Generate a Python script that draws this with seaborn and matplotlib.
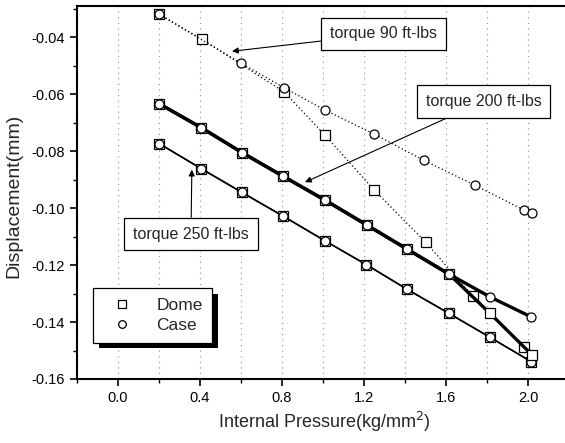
import numpy as np
import matplotlib
matplotlib.use("Agg")
import matplotlib.pyplot as plt
import matplotlib.patheffects as pe
from matplotlib.ticker import MultipleLocator, FormatStrFormatter
from matplotlib.lines import Line2D
import seaborn as sns


# torque 90 ft-lbs (dotted)
x_90_case = [0.20, 0.60, 0.81, 1.01, 1.25, 1.49, 1.74, 1.98, 2.02]
y_90_case = [-0.0319, -0.0491, -0.0577, -0.0656, -0.0740, -0.0832, -0.0919, -0.1007, -0.1018]
x_90_dome = [0.20, 0.41, 0.81, 1.01, 1.25, 1.50, 1.73, 1.98]
y_90_dome = [-0.0319, -0.0407, -0.0592, -0.0744, -0.0937, -0.1119, -0.1309, -0.1488]

# torque 200 ft-lbs (thick)
x_200_case = [0.20, 0.405, 0.605, 0.805, 1.01, 1.215, 1.41, 1.615, 1.815, 2.015]
y_200_case = [-0.0633, -0.0717, -0.0805, -0.0888, -0.0972, -0.1060, -0.1144, -0.1232, -0.1312, -0.1382]
x_200_dome = [0.20, 0.405, 0.605, 0.805, 1.01, 1.215, 1.41, 1.615, 1.815, 2.02]
y_200_dome = [-0.0633, -0.0717, -0.0805, -0.0888, -0.0972, -0.1060, -0.1144, -0.1232, -0.1370, -0.1516]

# torque 250 ft-lbs (thin solid)
x_250 = [0.20, 0.405, 0.605, 0.805, 1.01, 1.21, 1.41, 1.615, 1.815, 2.015]
y_250 = [-0.0773, -0.0861, -0.0945, -0.1028, -0.1115, -0.1198, -0.1285, -0.1370, -0.1454, -0.1539]

sns.set_style("ticks")
plt.rcParams["font.family"] = ["Liberation Sans", "DejaVu Sans"]

fig = plt.figure(figsize=(5.65, 4.43), dpi=100)
ax = fig.add_axes([0.1363, 0.1445, 0.8637, 0.842])

mk = dict(markersize=6.5, markerfacecolor="white", markeredgecolor="black",
          markeredgewidth=0.9, color="black")

sns.lineplot(x=x_90_dome, y=y_90_dome, marker="s", linestyle=(0, (1, 2)),
             linewidth=0.9, ax=ax, **mk)
sns.lineplot(x=x_90_case, y=y_90_case, marker="o", linestyle=(0, (1, 2)),
             linewidth=0.9, ax=ax, **mk)
sns.lineplot(x=x_250, y=y_250, marker="s", linewidth=1.1, ax=ax, **mk)
sns.lineplot(x=x_250, y=y_250, marker="o", linewidth=1.1, ax=ax, **mk)
sns.lineplot(x=x_200_dome, y=y_200_dome, marker="s", linewidth=2.4, ax=ax, **mk)
sns.lineplot(x=x_200_case, y=y_200_case, marker="o", linewidth=2.4, ax=ax, **mk)

ax.set_xlim(-0.2, 2.18)
ax.set_ylim(-0.16, -0.029)

ax.xaxis.set_major_locator(MultipleLocator(0.4))
ax.xaxis.set_minor_locator(MultipleLocator(0.2))
ax.yaxis.set_major_locator(MultipleLocator(0.02))
ax.yaxis.set_minor_locator(MultipleLocator(0.01))
ax.xaxis.set_major_formatter(FormatStrFormatter("%.1f"))
ax.yaxis.set_major_formatter(FormatStrFormatter("%.2f"))

ax.tick_params(which="major", direction="out", length=5, width=1.2,
               labelsize=10.5, color="black", labelcolor="black")
ax.tick_params(which="minor", direction="out", length=3, width=1.0, color="black")

ax.grid(True, axis="x", which="both", color="0.55", linestyle=(0, (1, 4)),
        linewidth=0.8)
ax.grid(False, axis="y", which="both")

for side in ["left", "bottom", "top"]:
    ax.spines[side].set_linewidth(1.5)
    ax.spines[side].set_color("black")
ax.spines["right"].set_visible(False)

ax.set_xlabel("Internal Pressure(kg/mm$^2$)", fontsize=13)
ax.set_ylabel("Displacement(mm)", fontsize=14)
ax.xaxis.set_label_coords(0.506, -0.082)
ax.yaxis.set_label_coords(-0.111, 0.49)

box = dict(boxstyle="square,pad=0.55", fc="white", ec="black", lw=0.9)
arrow = dict(arrowstyle="-|>", color="black", lw=0.8, mutation_scale=9,
             shrinkA=0, shrinkB=0)
ax.annotate("torque 90 ft-lbs", xy=(0.556, -0.0449), xytext=(1.295, -0.0388),
            ha="center", va="center", fontsize=11.5, bbox=box, arrowprops=arrow)
ax.annotate("torque 200 ft-lbs", xy=(0.912, -0.0909), xytext=(1.783, -0.0625),
            ha="center", va="center", fontsize=11.5, bbox=box, arrowprops=arrow)
ax.annotate("torque 250 ft-lbs", xy=(0.36, -0.0865), xytext=(0.356, -0.1091),
            ha="center", va="center", fontsize=11.5, bbox=box, arrowprops=arrow)

leg_mk = dict(mk, markersize=5.5)
handles = [
    Line2D([], [], linestyle="none", marker="s", **leg_mk),
    Line2D([], [], linestyle="none", marker="o", **leg_mk),
]
leg = ax.legend(handles, ["Dome", "Case"], loc="upper left",
                bbox_to_anchor=(0.033, 0.244), fontsize=12.5, frameon=True,
                fancybox=False, handletextpad=0.9, borderpad=0.55,
                labelspacing=0.3, borderaxespad=0, handlelength=2.2)
frame = leg.get_frame()
frame.set_edgecolor("black")
frame.set_linewidth(0.9)
frame.set_alpha(1)
frame.set_path_effects([
    pe.SimplePatchShadow(offset=(4, -4), shadow_rgbFace="black", alpha=1),
    pe.Normal(),
])

fig.savefig("out.png", dpi=100)
